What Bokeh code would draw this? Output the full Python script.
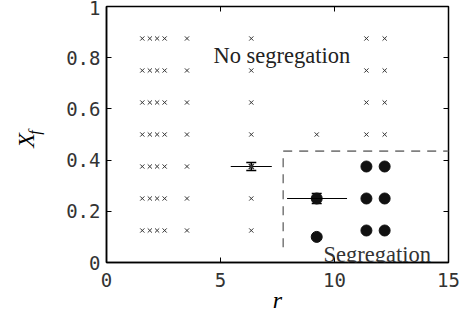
from bokeh.plotting import figure
from bokeh.models import (ColumnDataSource, FixedTicker, LinearAxis, Label,
                          Range1d, Whisker, TeeHead)
from bokeh.embed import file_html
from bokeh.resources import INLINE

# ---- data ----
rows = [0.125, 0.25, 0.375, 0.5, 0.625, 0.75, 0.875]
left_r = [1.57, 1.9, 2.22, 2.55, 3.53]
mid_r = 6.35
mid_rows = [0.125, 0.25, 0.5, 0.625, 0.75, 0.875]
r92_cross_rows = [0.5]
right_r = [11.4, 12.2]
right_cross_rows = [0.5, 0.625, 0.75, 0.875]
right_dot_rows = [0.125, 0.25, 0.375]
r92 = 9.22
r92_dot_rows = [0.1, 0.25]

# error bars
eb_r = [6.35, 9.22]
eb_x = [0.375, 0.25]
eb_r_lo = [5.45, 7.92]
eb_r_hi = [7.25, 10.55]
eb_x_err = [0.016, 0.02]

# segregation boundary (dashed)
bound_r = [7.75, 7.75, 15.0]
bound_x = [0.06, 0.435, 0.435]

x_ticks = [0, 5, 10, 15]
x_tick_labels = ["0", "5", "10", "15"]
y_ticks = [0, 0.2, 0.4, 0.6, 0.8, 1.0]
y_tick_labels = ["0", "0.2", "0.4", "0.6", "0.8", "1"]

# build cross/dot lists
cross_r, cross_x = [], []
for y in rows:
    for r in left_r:
        cross_r.append(r); cross_x.append(y)
for y in mid_rows:
    cross_r.append(mid_r); cross_x.append(y)
for y in r92_cross_rows:
    cross_r.append(r92); cross_x.append(y)
for r in right_r:
    for y in right_cross_rows:
        cross_r.append(r); cross_x.append(y)

dot_r, dot_x = [], []
for y in r92_dot_rows:
    dot_r.append(r92); dot_x.append(y)
for r in right_r:
    for y in right_dot_rows:
        dot_r.append(r); dot_x.append(y)

p = figure(width=460, height=315, output_backend="svg", toolbar_location=None,
           x_range=Range1d(0, 15), y_range=Range1d(0, 1),
           min_border_left=106, min_border_right=12, min_border_top=6,
           min_border_bottom=0)
p.background_fill_color = "white"
p.border_fill_color = "white"
p.grid.visible = False
p.outline_line_color = "black"
p.outline_line_width = 1.5

serif = "Liberation Serif"
tick_font = "DejaVu Sans Mono"
for ax in (p.xaxis[0], p.yaxis[0]):
    ax.major_tick_in = 5
    ax.major_tick_out = 0
    ax.minor_tick_line_color = None
    ax.axis_line_color = "black"
    ax.axis_line_width = 1.5
    ax.major_tick_line_color = "black"
    ax.major_label_text_font = tick_font
    ax.major_label_text_font_size = "19px"
    ax.major_label_text_color = "#333333"
    ax.axis_label_text_font = serif
    ax.axis_label_text_font_style = "italic"
    ax.axis_label_text_color = "black"

p.xaxis.ticker = FixedTicker(ticks=x_ticks)
p.yaxis.ticker = FixedTicker(ticks=y_ticks)
p.xaxis.major_label_overrides = {t: l for t, l in zip(x_ticks, x_tick_labels)}
p.yaxis.major_label_overrides = {t: l for t, l in zip(y_ticks, y_tick_labels)}
p.yaxis.major_label_standoff = 6
p.xaxis.major_label_standoff = 10

p.xaxis.axis_label = "r"
p.xaxis.axis_label_text_font_size = "24px"
p.xaxis.axis_label_standoff = -3

# y label: subscript "f" on the main axis, "X" on an outer axis
p.yaxis.axis_label = "\u00a0" + "f"
p.yaxis.axis_label_text_font_size = "16px"
p.yaxis.axis_label_standoff = 20

outer = LinearAxis(ticker=FixedTicker(ticks=[]), axis_label="X" + "\u00a0" * 2)
outer.axis_line_color = None
outer.major_tick_line_color = None
outer.minor_tick_line_color = None
outer.major_label_text_font_size = "0px"
outer.major_label_standoff = 0
outer.axis_label_standoff = -15
outer.axis_label_text_font = serif
outer.axis_label_text_font_style = "italic"
outer.axis_label_text_font_size = "24px"
outer.axis_label_text_color = "black"
p.add_layout(outer, "left")

top = LinearAxis(ticker=FixedTicker(ticks=x_ticks))
right = LinearAxis(ticker=FixedTicker(ticks=y_ticks))
for ax in (top, right):
    ax.major_tick_in = 5
    ax.major_tick_out = 0
    ax.minor_tick_line_color = None
    ax.axis_line_color = None
    ax.major_label_text_font_size = "0px"
    ax.major_label_text_color = None
    ax.major_label_standoff = 0
p.add_layout(top, "above")
p.add_layout(right, "right")

# dashed boundary
p.line(bound_r, bound_x, line_color="#808080", line_width=1.6, line_dash="9 7")

# crosses
p.scatter(cross_r, cross_x, marker="x", size=6, line_color="#333333",
          line_width=1)
# dots
p.scatter(dot_r, dot_x, marker="circle", size=11, fill_color="#111111",
          line_color="#111111")

# error bars
src = ColumnDataSource(dict(r=eb_r, x=eb_x, rlo=eb_r_lo, rhi=eb_r_hi,
                            xlo=[a - e for a, e in zip(eb_x, eb_x_err)],
                            xhi=[a + e for a, e in zip(eb_x, eb_x_err)]))
p.segment(x0="rlo", y0="x", x1="rhi", y1="x", source=src,
          line_color="black", line_width=1)
w = Whisker(base="r", lower="xlo", upper="xhi", dimension="height",
            source=src, line_color="black", line_width=1.5,
            lower_head=TeeHead(size=10, line_color="black", line_width=1.5),
            upper_head=TeeHead(size=10, line_color="black", line_width=1.5))
p.add_layout(w)
p.scatter([eb_r[0]], [eb_x[0]], marker="x", size=7, line_color="#333333",
          line_width=1.5)

# text annotations
p.add_layout(Label(x=4.69, y=0.81, text="No segregation", text_font=serif,
                   text_font_size="22.5px", text_color="#222222",
                   text_baseline="alphabetic"))
p.add_layout(Label(x=9.52, y=0.03, text="Segregation", text_font=serif,
                   text_font_size="22.5px", text_color="#333333",
                   text_baseline="alphabetic"))

open("out.html", "w").write(file_html(p, INLINE))
